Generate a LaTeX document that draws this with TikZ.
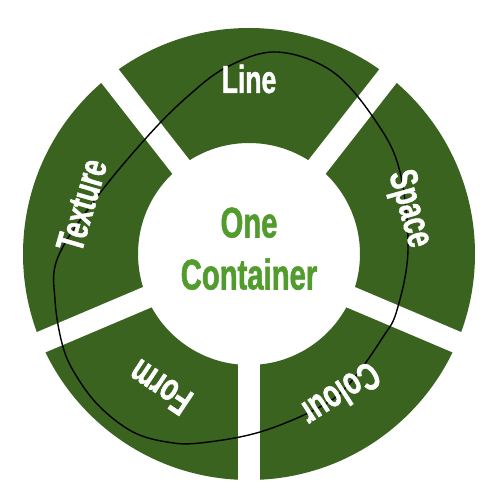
\documentclass[tikz,border=0pt]{standalone}
\usepackage{fontspec}
\newfontfamily\cond{Liberation Sans}[FakeStretch=0.68,FakeBold=1.2,UprightFont=* Bold]
\definecolor{ringgreen}{RGB}{57,99,31}
\definecolor{txtgreen}{RGB}{82,156,46}
\begin{document}
\begin{tikzpicture}[x=1pt,y=1pt,
  lab/.style={text=white,font=\cond\fontsize{39}{39}\selectfont,
    inner sep=0pt,text height=28pt,text depth=0pt,anchor=center},
  mid/.style={text=txtgreen,font=\cond\fontsize{43}{43}\selectfont,
    inner sep=0pt,text height=31pt,text depth=0pt,anchor=center}]
\useasboundingbox (-249,-246) rectangle (251,254);
\fill[white] (-249,-246) rectangle (251,254);
% ring
\fill[ringgreen,even odd rule] (0,0) circle (226) (0,0) circle (111);
% gaps
\foreach \a in {52,128,203,270,337}
  \draw[white,line width=22pt] (0,0) -- (\a:245);
% curve
\draw[black,line width=1.4pt] plot[smooth cycle,tension=0.6] coordinates {
 (-191,-3) (-152,57) (-102,117) (-62,157) (-22,187) (28,202) (84,182)
 (128,131) (151,82) (159,4) (148,-56) (134,-83) (101,-129) (71,-153) (11,-178)
 (-49,-189) (-82,-188) (-116,-178) (-149,-153) (-172,-123) (-186,-93) (-194,-46)};
% labels
\node[lab] (line) at (0,175) {Line};
\node[lab,rotate=-74.3] (space) at (164,46) {Space};
\node[lab,rotate=73.7] (texture) at (-168,49) {Texture};
\node[lab,rotate=146.4] (form) at (-89,-134) {Form};
\node[lab,rotate=212.8] (colour) at (92,-141) {Colour};
% centre
\node[mid] (one) at (0,32) {One};
\node[mid] (container) at (0,-20) {Container};
\end{tikzpicture}
\end{document}
